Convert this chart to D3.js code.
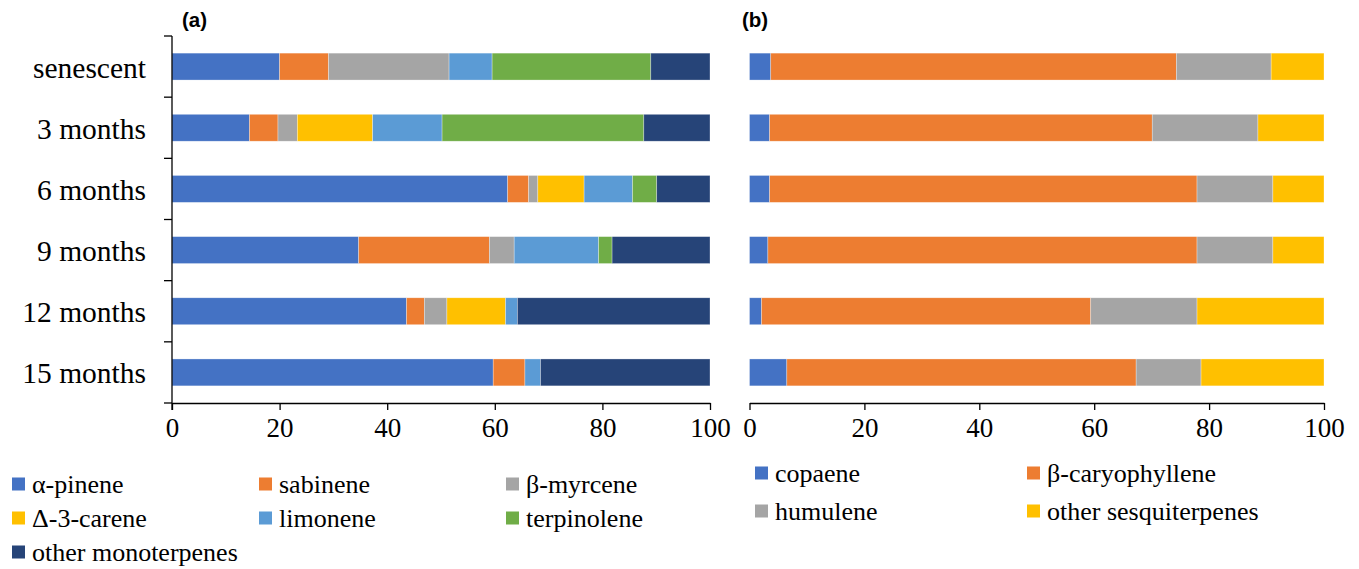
<!DOCTYPE html>
<html><head><meta charset="utf-8">
<script src="https://cdn.jsdelivr.net/npm/d3@7"></script>
<style>body{margin:0;background:#fff;} svg{display:block;}</style>
</head><body>
<svg id="chart" width="1359" height="569"></svg>
<script>
const categories = ["senescent","3 months","6 months","9 months","12 months","15 months"];

const monoSeries = ["α-pinene","sabinene","β-myrcene","Δ-3-carene","limonene","terpinolene","other monoterpenes"];
const alphaPinene   = [20.0, 14.4, 62.4, 34.7, 43.6, 59.7];
const sabinene      = [ 9.1,  5.3,  3.9, 24.3,  3.3,  5.9];
const betaMyrcene   = [22.4,  3.6,  1.7,  4.6,  4.2,  0.0];
const delta3Carene  = [ 0.0, 14.0,  8.6,  0.0, 10.9,  0.0];
const limonene      = [ 8.0, 12.9,  9.0, 15.7,  2.2,  2.9];
const terpinolene   = [29.5, 37.5,  4.5,  2.5,  0.0,  0.0];
const otherMono     = [11.0, 12.3,  9.9, 18.2, 35.8, 31.5];

const sesqSeries = ["copaene","β-caryophyllene","humulene","other sesquiterpenes"];
const copaene        = [ 3.7,  3.5,  3.5,  3.2,  2.1,  6.5];
const betaCaryoph    = [70.6, 66.6, 74.4, 74.7, 57.3, 60.8];
const humulene       = [16.5, 18.4, 13.2, 13.2, 18.5, 11.3];
const otherSesq      = [ 9.2, 11.5,  8.9,  8.9, 22.1, 21.4];

const xTicks = [0,20,40,60,80,100];
const palette = ["#4472C4","#ED7D31","#A5A5A5","#FFC000","#5B9BD5","#70AD47","#264478"];
const sesqPalette = ["#4472C4","#ED7D31","#A5A5A5","#FFC000"];

const svg = d3.select("#chart");
const serif = "'Liberation Serif','Times New Roman',serif";

function buildRows(seriesNames, arrays){
  return categories.map((c,i)=>{
    const o={cat:c};
    seriesNames.forEach((s,j)=>o[s]=arrays[j][i]);
    return o;
  });
}

const y = d3.scaleBand().domain(categories).range([36,403]).paddingInner(0.56).paddingOuter(0.28);

function panel(cfg){
  const x = d3.scaleLinear().domain([0,100]).range([cfg.x0,cfg.x1]);
  const rows = buildRows(cfg.series, cfg.arrays);
  const stack = d3.stack().keys(cfg.series)(rows);
  const color = d3.scaleOrdinal().domain(cfg.series).range(cfg.colors);
  const g = svg.append("g");
  g.selectAll("g.layer").data(stack).join("g").attr("fill",d=>color(d.key))
    .selectAll("rect").data(d=>d).join("rect")
    .attr("x",d=>x(d[0])).attr("width",d=>Math.max(0,x(d[1])-x(d[0])))
    .attr("y",d=>y(d.data.cat)).attr("height",y.bandwidth())
    .attr("stroke","#ffffff").attr("stroke-opacity",0.5).attr("stroke-width",0.6);

  // x axis
  const xAxis = d3.axisBottom(x).tickValues(xTicks).tickSize(7).tickSizeOuter(0).tickPadding(8);
  const ax = g.append("g").attr("transform","translate(0,403)").call(xAxis);
  ax.select(".domain").attr("stroke","#000").attr("stroke-width",1.3);
  ax.selectAll(".tick line").attr("stroke","#000").attr("stroke-width",1.3);
  ax.selectAll(".tick text").attr("font-family",serif).attr("font-size",27).attr("fill","#000");

  if(cfg.yAxis){
    const y0 = y.range()[0], st = y.step();
    g.append("line").attr("x1",x(0)).attr("x2",x(0)).attr("y1",y0).attr("y2",410)
      .attr("stroke","#000").attr("stroke-width",1.3);
    g.selectAll("line.yt").data(d3.range(categories.length+1)).join("line")
      .attr("x1",x(0)-8).attr("x2",x(0)).attr("y1",i=>y0+i*st).attr("y2",i=>y0+i*st)
      .attr("stroke","#000").attr("stroke-width",1.3);
    g.selectAll("text.cat").data(categories).join("text")
      .attr("x",146).attr("y",d=>y(d)+y.bandwidth()/2+1)
      .attr("text-anchor","end").attr("dominant-baseline","central")
      .attr("font-family",serif).attr("font-size",29.5).attr("fill","#000").text(d=>d);
  }
  g.append("text").attr("x",cfg.labelX).attr("y",27).attr("font-family","'Liberation Sans',Arial,sans-serif")
    .attr("font-weight","bold").attr("font-size",20.5).attr("fill","#000").text(cfg.label);

  // legend
  const lg = g.append("g");
  cfg.series.forEach((s,i)=>{
    const col = i % cfg.legCols.length, row = Math.floor(i / cfg.legCols.length);
    const lx = cfg.legCols[col], ly = cfg.legRows[row];
    lg.append("rect").attr("x",lx).attr("y",ly-6.5).attr("width",13).attr("height",13).attr("fill",color(s));
    lg.append("text").attr("x",lx+20).attr("y",ly).attr("dominant-baseline","central")
      .attr("font-family",serif).attr("font-size",26).attr("fill","#000").text(s);
  });
}

panel({x0:172,x1:710,series:monoSeries,
  arrays:[alphaPinene,sabinene,betaMyrcene,delta3Carene,limonene,terpinolene,otherMono],
  colors:palette,yAxis:true,label:"(a)",labelX:182,
  legCols:[12,259,506],legRows:[484,518,552]});
panel({x0:749.5,x1:1324,series:sesqSeries,
  arrays:[copaene,betaCaryoph,humulene,otherSesq],
  colors:sesqPalette,yAxis:false,label:"(b)",labelX:742,
  legCols:[755,1027],legRows:[473,511]});
</script>
</body></html>
